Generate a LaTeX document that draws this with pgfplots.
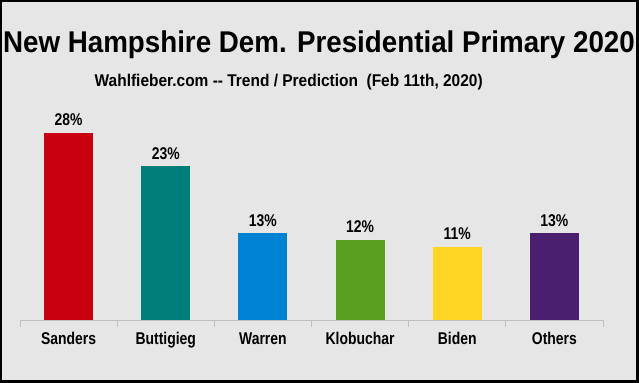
\documentclass[border=0pt]{standalone}
\usepackage{pgfplots}
\pgfplotsset{compat=1.18}
\usepackage{fontspec}
\setmainfont{Liberation Sans}
\newfontfamily\nb{Liberation Sans}[FakeStretch=0.82]
\newfontfamily\nt{Liberation Sans}[FakeStretch=0.925]
\newfontfamily\ns{Liberation Sans}[FakeStretch=0.91]
\definecolor{bgc}{HTML}{E6E6E6}
\definecolor{cSanders}{HTML}{C8000F}
\definecolor{cButtigieg}{HTML}{007F7A}
\definecolor{cWarren}{HTML}{0083D3}
\definecolor{cKlobuchar}{HTML}{5A9E1E}
\definecolor{cBiden}{HTML}{FFD523}
\definecolor{cOthers}{HTML}{4B1F6F}
\definecolor{tickc}{HTML}{BFBFBF}
\begin{document}
\begin{tikzpicture}
\fill[black] (0,0) rectangle (639bp,383bp);
\fill[bgc] (2bp,3bp) rectangle (636bp,381bp);
\path[use as bounding box] (0,0) rectangle (639bp,383bp);
\node[anchor=base, font=\nt\bfseries\fontsize{30bp}{32bp}\selectfont] at (319bp,330bp) {New Hampshire Dem. Presidential Primary 2020};
\node[anchor=base west, inner sep=0pt, font=\ns\bfseries\fontsize{17bp}{19bp}\selectfont] at (94.5bp,296bp) {Wahlfieber.com -- Trend / Prediction\ \ (Feb 11th, 2020)};
\begin{axis}[
  at={(20bp,63bp)}, anchor=south west,
  width=583bp, height=220bp, scale only axis,
  xmin=-0.5, xmax=5.5, ymin=0, ymax=32.93,
  ybar, bar width=49bp, bar shift=0pt,
  axis x line=bottom, axis y line=none,
  x axis line style={-, draw=tickc, line width=1pt},
  xtick={0,...,5},
  xticklabels={Sanders,Buttigieg,Warren,Klobuchar,Biden,Others},
  major tick length=0pt,
  minor xtick={-0.5,0.5,...,5.5},
  minor tick length=7bp,
  tick align=outside,
  minor tick style={draw=tickc, line width=1pt},
  xticklabel style={font=\nb\bfseries\fontsize{17bp}{19bp}\selectfont, yshift=-9bp},
  /pgf/number format/assume math mode=true,
  nodes near coords={\pgfmathprintnumber{\pgfplotspointmeta}\%},
  every node near coord/.append style={anchor=base, yshift=7bp, font=\nb\bfseries\fontsize{17bp}{19bp}\selectfont, text=black},
  clip=false,
]
\addplot[fill=cSanders, draw=none] coordinates {(0,28)};
\addplot[fill=cButtigieg, draw=none] coordinates {(1,23)};
\addplot[fill=cWarren, draw=none] coordinates {(2,13)};
\addplot[fill=cKlobuchar, draw=none] coordinates {(3,12)};
\addplot[fill=cBiden, draw=none] coordinates {(4,11)};
\addplot[fill=cOthers, draw=none] coordinates {(5,13)};
\end{axis}
\end{tikzpicture}
\end{document}
